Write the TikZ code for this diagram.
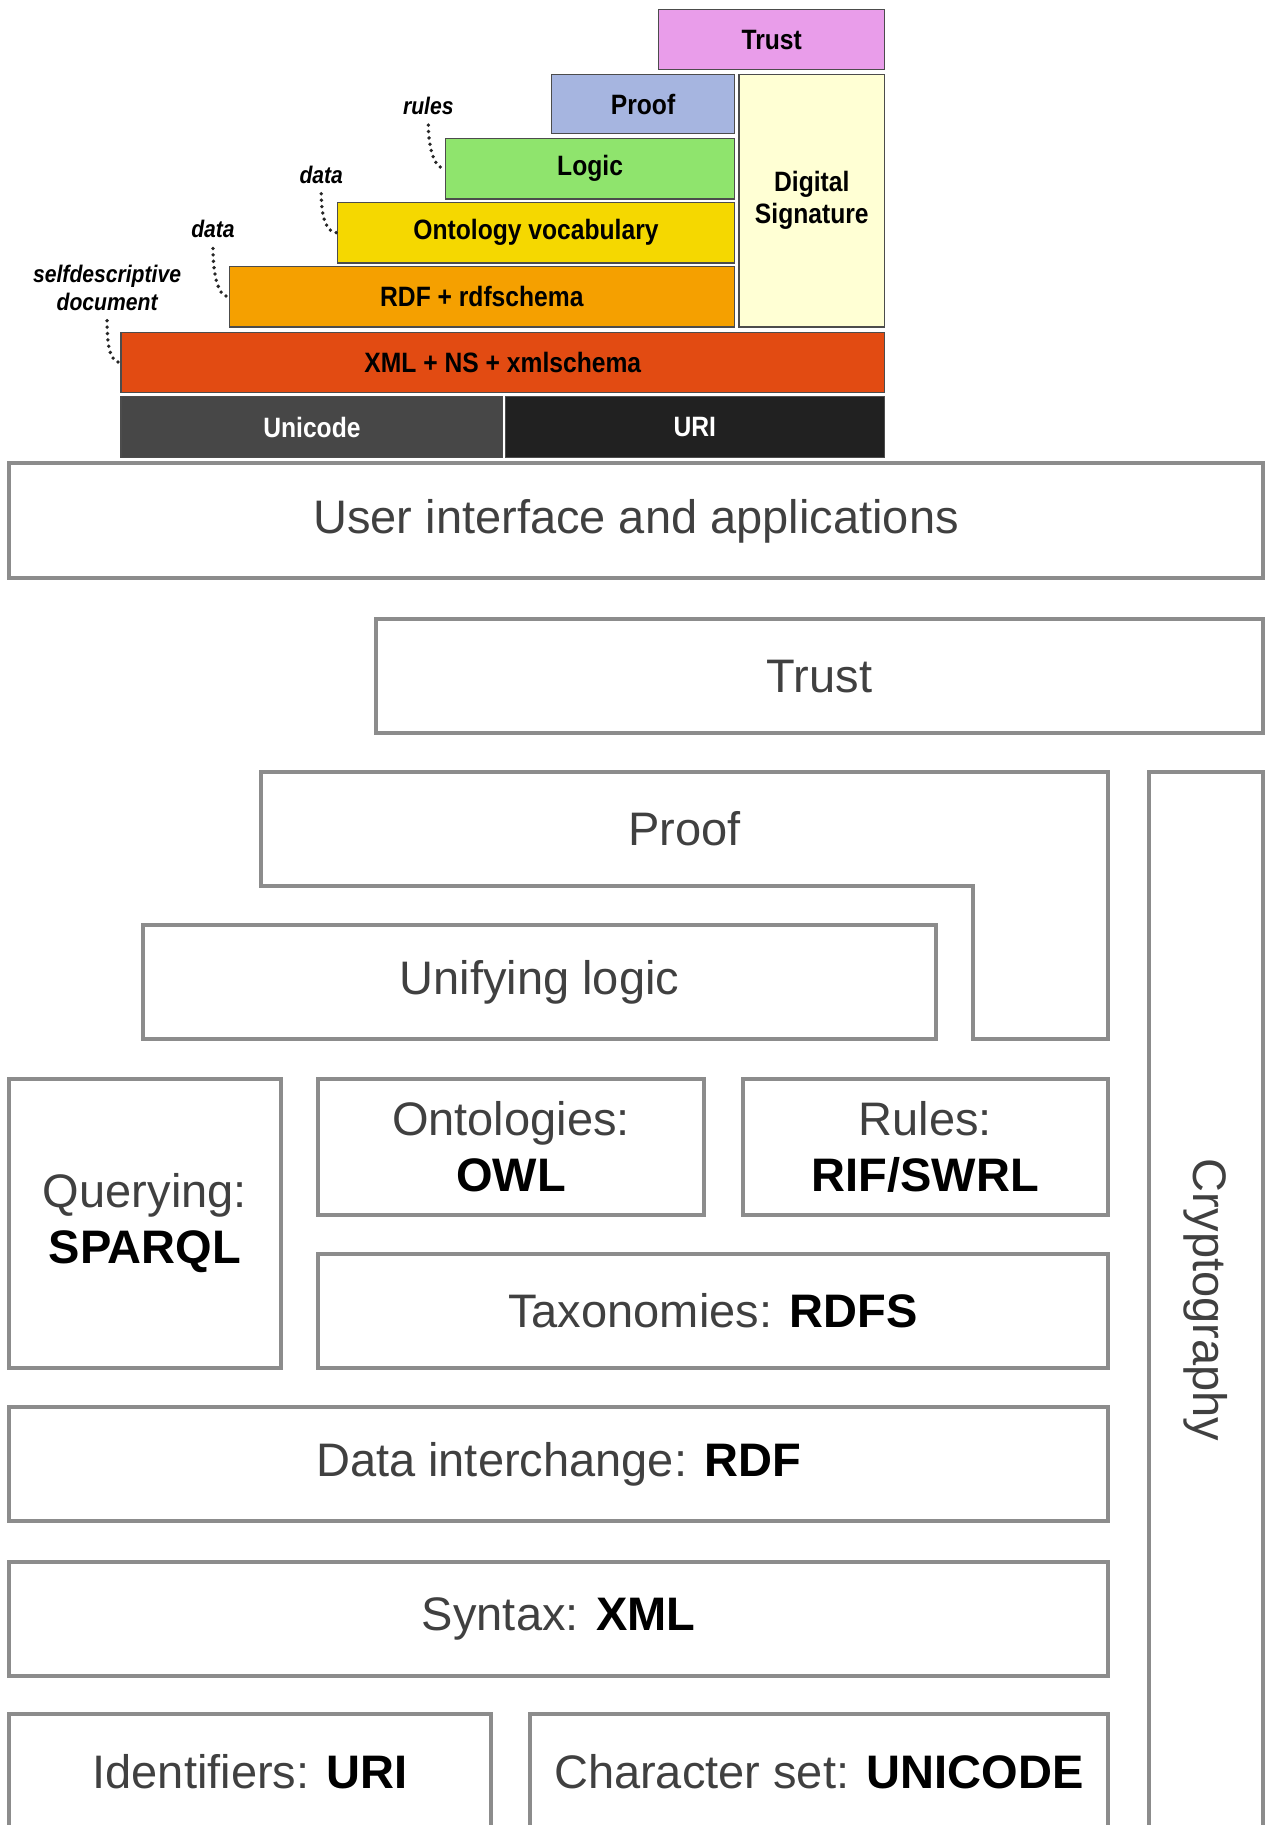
\documentclass[tikz,border=0pt]{standalone}
\usepackage{fontspec}
\setmainfont{Liberation Sans}
\newfontfamily\narrowsf[FakeStretch=0.88]{Liberation Sans}
\usetikzlibrary{positioning}

\definecolor{trustpink}{HTML}{E99DEA}
\definecolor{proofblue}{HTML}{A6B5E0}
\definecolor{logicgreen}{HTML}{8FE46D}
\definecolor{ontoyellow}{HTML}{F5D800}
\definecolor{rdforange}{HTML}{F5A000}
\definecolor{xmlred}{HTML}{E24B12}
\definecolor{unigray}{HTML}{474747}
\definecolor{uriblack}{HTML}{212121}
\definecolor{sigyellow}{HTML}{FFFFD4}
\definecolor{boxline}{HTML}{8C8C8C}

% one unit of the picture
\def\px{0.5818pt}
% a box from (x1,y1) to (x2,y2), as a named node
\newcommand{\layer}[6]{\node[#2, minimum width={(#5-#3)*\px}, minimum height={(#6-#4)*\px}] (#1) at ({(#3+#5)/2},{(#4+#6)/2})}
\newcommand{\kw}[1]{\textcolor{black}{\bfseries #1}}

\tikzset{
  stack/.style ={draw=gray!60!black, line width=0.6pt, inner sep=0pt,
                 font=\narrowsf\bfseries\fontsize{14}{16}\selectfont},
  plain/.style ={draw=boxline, line width=2pt, inner sep=0pt, text=black!75,
                 font=\fontsize{23.5}{28}\selectfont},
}

\begin{document}
\begin{tikzpicture}[x=\px, y=-\px,
  note/.style={font=\narrowsf\bfseries\itshape\fontsize{12}{14}\selectfont, inner sep=1pt},
  dotlink/.style={line width=1.9pt, dash pattern=on 0pt off 3.2pt, line cap=round, black!85},
  plainline/.style={draw=boxline, line width=2pt}
]
\useasboundingbox (0,0) rectangle (1088,1568);
\clip (0,0) rectangle (1088,1568);

%--- Old layer cake ---
\layer{trustT}{stack, fill=trustpink}{566}{8}{760}{60}{Trust};
\layer{proofT}{stack, fill=proofblue}{474}{64}{631}{115}{Proof};
\layer{sigT}{stack, fill=sigyellow, align=center}{635}{64}{760}{281}{Digital\\Signature};
\layer{logicT}{stack, fill=logicgreen}{383}{119}{631}{171}{Logic};
\layer{ontoT}{stack, fill=ontoyellow}{290}{174}{631}{226}{Ontology vocabulary};
\layer{rdfT}{stack, fill=rdforange}{197}{229}{631}{281}{RDF + rdfschema};
\layer{xmlT}{stack, fill=xmlred}{104}{286}{760}{337}{XML + NS + xmlschema};
\layer{unicodeT}{stack, fill=unigray, text=white}{104}{341}{432}{393}{Unicode};
\layer{uriT}{stack, fill=uriblack, text=white}{434}{341}{760}{393}{URI};

% side notes
\node[note] (rulesl) at (368,91) {rules};
\node[note] (datal) at (276,150) {data};
\node[note] (datall) at (183,197) {data};
\node[note, align=center] (selfl) at (92,247) {selfdescriptive\\document};

\draw[dotlink, shorten <=4pt] (rulesl.south) .. controls +(0,24) and +(-10,0) .. (logicT.west);
\draw[dotlink, shorten <=4pt] (datal.south) .. controls +(0,24) and +(-10,0) .. (ontoT.west);
\draw[dotlink, shorten <=4pt] (datall.south) .. controls +(0,26) and +(-10,0) .. (rdfT.west);
\draw[dotlink, shorten <=4pt] (selfl.south) .. controls +(0,24) and +(-10,0) .. (xmlT.west);

%--- New stack ---
\layer{ui}{plain}{8}{398}{1085}{497}{User interface and applications};
\layer{trust}{plain}{323}{532}{1085}{630}{Trust};

% proof wraps round the unifying logic
\draw[plainline] (224,663) -- (952,663) -- (952,893) -- (836,893) -- (836,761) -- (224,761) -- cycle;
\node[plain, draw=none] (proof) at (588,712) {Proof};

\layer{crypto}{plain}{987}{663}{1085}{1571}{};
\node[plain, draw=none, rotate=-90] (cryptol) at (crypto.center) {Cryptography};

\layer{unify}{plain}{123}{795}{804}{893}{Unifying logic};
\layer{sparql}{plain, align=center}{8}{927}{241}{1175}{Querying:\\\kw{SPARQL}};
\layer{owl}{plain, align=center}{273}{927}{605}{1044}{Ontologies:\\\kw{OWL}};
\layer{rif}{plain, align=center}{638}{927}{952}{1044}{Rules:\\\kw{RIF/SWRL}};
\layer{rdfs}{plain}{273}{1077}{952}{1175}{Taxonomies: \kw{RDFS}};
\layer{rdf}{plain}{8}{1209}{952}{1307}{Data interchange: \kw{RDF}};
\layer{xml}{plain}{8}{1342}{952}{1440}{Syntax: \kw{XML}};
\layer{uri}{plain}{8}{1473}{422}{1571}{Identifiers: \kw{URI}};
\layer{unicode}{plain}{455}{1473}{952}{1571}{Character set: \kw{UNICODE}};

\end{tikzpicture}
\end{document}
